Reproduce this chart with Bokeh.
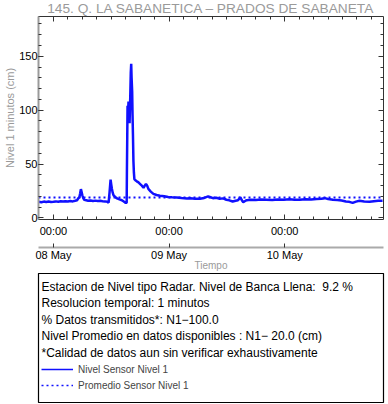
from datetime import datetime, timedelta

from bokeh.embed import file_html
from bokeh.layouts import column
from bokeh.models import (ColumnDataSource, CustomJSTickFormatter, DatetimeAxis,
                          DatetimeTickFormatter, FixedTicker, Label, Legend, LegendItem,
                          LinearAxis, Range1d, SingleIntervalTicker)
from bokeh.plotting import figure
from bokeh.resources import INLINE

# ---------------- data ----------------
TITLE = "145. Q. LA SABANETICA \u2013 PRADOS DE SABANETA"
Y_LABEL = "Nivel 1 minutos (cm)"
X_LABEL = "Tiempo"
DAY0 = datetime(2024, 5, 8)

# hours relative to 08 May 00:00
hours = [-3.1, -2.5, -2.0, -1.5, -1.0, -0.5, 0.0, 0.5, 1.0, 1.5, 2.0, 2.5, 3.0, 3.5,
         4.0, 4.5, 4.9, 5.2, 5.4, 5.55, 5.7, 5.85, 6.0, 6.2, 6.4, 6.8, 7.2, 7.7, 8.2,
         8.7, 9.2, 9.7, 10.2, 10.7, 11.2, 11.45, 11.65, 11.86, 12.0, 12.14, 12.3,
         12.48, 12.8, 13.2, 13.7, 14.2, 14.6, 15.0, 15.2, 15.25, 15.38, 15.5, 15.58,
         15.7, 15.8, 15.93, 16.05, 16.14, 16.22, 16.34, 16.42, 16.5, 16.6, 16.7, 16.8,
         17.0, 17.3, 17.65, 18.0, 18.35, 18.7, 18.95, 19.2, 19.45, 19.7, 20.2, 20.75,
         21.4, 22.1, 23.0, 23.8, 24.6, 25.6, 26.6, 27.7, 28.4, 29.4, 30.4, 31.3, 32.1,
         32.6, 33.1, 33.8, 34.5, 35.2, 35.9, 36.5, 37.2, 37.8, 38.3, 38.6, 38.8, 39.1,
         39.4, 39.7, 40.1, 41.0, 42.0, 43.0, 44.2, 45.4, 46.6, 47.8, 49.0, 50.0, 51.1,
         52.3, 53.5, 54.6, 55.6, 56.3, 57.0, 58.0, 58.9, 59.8, 60.7, 61.4, 62.1, 62.8,
         63.5, 64.5, 65.6, 66.5, 67.4, 68.3]
level_cm = [15.0, 14.6, 15.2, 14.8, 15.3, 14.9, 15.1, 15.4, 15.0, 15.5, 15.2, 15.6, 15.3,
            15.7, 15.4, 16.0, 16.5, 18.5, 19.5, 23.0, 26.8, 24.0, 21.0, 18.5, 16.8, 16.4,
            16.0, 16.3, 15.8, 16.1, 15.7, 15.9, 15.5, 15.4, 15.0, 14.3, 24.0, 35.5, 31.0,
            27.0, 23.5, 21.0, 19.5, 18.2, 17.3, 16.5, 15.3, 14.0, 14.2, 44.0, 104.0, 99.0,
            108.0, 97.0, 88.0, 110.0, 135.0, 143.0, 130.0, 117.0, 95.0, 78.0, 53.0, 42.0,
            36.0, 35.0, 34.0, 33.0, 31.5, 30.0, 28.0, 30.0, 31.7, 30.0, 27.0, 24.5, 22.4,
            21.3, 20.6, 20.1, 19.4, 19.2, 19.0, 18.5, 18.0, 18.4, 17.8, 17.9, 18.6, 20.0,
            19.2, 18.4, 18.7, 17.9, 18.2, 16.9, 16.4, 15.3, 16.0, 16.5, 18.0, 19.3, 16.5,
            14.7, 15.5, 16.5, 17.0, 16.6, 17.1, 17.0, 16.8, 17.2, 16.9, 17.3, 17.0, 17.0,
            17.4, 17.1, 17.6, 17.8, 18.4, 17.6, 17.0, 16.7, 16.2, 15.3, 15.0, 14.0, 15.2,
            16.0, 15.4, 15.0, 15.6, 15.9, 16.0]
mean_cm = 19.0
x_span_hours = [-3.1, 68.5]
y_span_cm = [-1.4, 186.9]
tick_days = [datetime(2024, 5, 8), datetime(2024, 5, 9), datetime(2024, 5, 10)]
minor_step_hours = 3

info_lines = [
    "Estacion de Nivel tipo Radar. Nivel de Banca Llena:\u00a0 9.2 %",
    "Resolucion temporal: 1 minutos",
    "% Datos transmitidos*: N1\u2212100.0",
    "Nivel Promedio en datos disponibles : N1\u2212 20.0 (cm)",
    "*Calidad de datos aun sin verificar exhaustivamente",
]
legend_labels = ["Nivel Sensor Nivel 1", "Promedio Sensor Nivel 1"]

# ---------------- build ----------------
FONT = "Liberation Sans"
GRAY = "#9a9a9a"
DARK = "#333333"
BLUE = "#1010ff"

times = [DAY0 + timedelta(hours=h) for h in hours]
x0 = DAY0 + timedelta(hours=x_span_hours[0])
x1 = DAY0 + timedelta(hours=x_span_hours[1])
src = ColumnDataSource(dict(t=times, v=level_cm))
mean_src = ColumnDataSource(dict(t=[x0, x1], v=[mean_cm, mean_cm]))


def ms(d):
    return (d - datetime(1970, 1, 1)).total_seconds() * 1000.0


major_ms = [ms(d) for d in tick_days]
minor_ms = []
m = tick_days[0] - timedelta(hours=minor_step_hours)
while m <= x1 + timedelta(hours=minor_step_hours):
    minor_ms.append(ms(m))
    m += timedelta(hours=minor_step_hours)

W = 388
FRAME_L, FRAME_T, FRAME_R, FRAME_B = 38, 16, 384, 219
H1 = 273          # main plot height (box starts right below)
H2 = 404 - H1     # info box figure

p = figure(width=W, height=H1, output_backend="svg", toolbar_location=None,
           x_axis_type="datetime", x_range=Range1d(x0, x1),
           y_range=Range1d(y_span_cm[0], y_span_cm[1]),
           min_border_left=FRAME_L, min_border_right=W - FRAME_R,
           min_border_top=FRAME_T, min_border_bottom=H1 - FRAME_B,
           outline_line_color=None, background_fill_color="white",
           border_fill_color="white")
p.xgrid.grid_line_color = None
p.ygrid.grid_line_color = None

p.title.text = TITLE
p.title.align = "center"
p.title.vertical_align = "top"
p.title.text_font = FONT
p.title.text_font_size = "13.7px"
p.title.text_font_style = "normal"
p.title.text_color = GRAY
p.title.standoff = -2
p.title.offset = 2

xa = p.below[0]
ya = p.left[0]

r_line = p.line("t", "v", source=src, line_color=BLUE, line_width=2.5)
r_mean = p.line("t", "v", source=mean_src, line_color=BLUE, line_width=2,
                line_dash="2 3")

y_ticker = SingleIntervalTicker(interval=50, num_minor_ticks=5)
x_ticker = FixedTicker(ticks=major_ms, minor_ticks=minor_ms)
blank = CustomJSTickFormatter(code="return ''")


def style_ticks(ax):
    ax.major_tick_in = 5
    ax.major_tick_out = 0
    ax.minor_tick_in = 3
    ax.minor_tick_out = 0
    ax.major_tick_line_color = DARK
    ax.minor_tick_line_color = DARK


# left axis
ya.ticker = y_ticker
style_ticks(ya)
ya.axis_line_color = GRAY
ya.axis_line_width = 2
ya.major_label_text_font = FONT
ya.major_label_text_font_size = "11px"
ya.major_label_text_color = "black"
ya.major_label_standoff = 1
ya.axis_label = Y_LABEL
ya.axis_label_text_font = FONT
ya.axis_label_text_font_size = "11px"
ya.axis_label_text_font_style = "normal"
ya.axis_label_text_color = GRAY
ya.axis_label_standoff = 0

# right mirror axis
ra = LinearAxis(ticker=y_ticker, formatter=blank, axis_line_color=DARK,
                major_label_standoff=0, major_label_text_font_size="0px")
style_ticks(ra)
p.add_layout(ra, "right")

# top mirror axis
ta = DatetimeAxis(ticker=x_ticker, formatter=blank, axis_line_color=DARK,
                  major_label_standoff=0, major_label_text_font_size="0px")
style_ticks(ta)
p.add_layout(ta, "above")

# bottom axis: hours
fmt_h = DatetimeTickFormatter(days="%H:%M", hours="%H:%M", hourmin="%H:%M",
                              months="%H:%M", years="%H:%M", context=None)
xa.ticker = x_ticker
xa.formatter = fmt_h
style_ticks(xa)
xa.axis_line_color = DARK
xa.major_label_text_font = FONT
xa.major_label_text_font_size = "11px"
xa.major_label_text_color = "black"
xa.major_label_standoff = 5
xa.axis_label = " "
xa.axis_label_text_font_size = "5px"
xa.axis_label_standoff = -1

# bottom axis: days
fmt_d = DatetimeTickFormatter(days="%d %b", hours="%d %b", hourmin="%d %b",
                              months="%d %b", years="%d %b", context=None)
da = DatetimeAxis(ticker=FixedTicker(ticks=major_ms), formatter=fmt_d,
                  axis_line_color="#aaaaaa", axis_line_width=2,
                  major_tick_in=4, major_tick_out=0, major_tick_line_color=DARK,
                  minor_tick_line_color=None,
                  major_label_text_font=FONT, major_label_text_font_size="11px",
                  major_label_text_color="black", major_label_standoff=1,
                  axis_label=X_LABEL, axis_label_text_font=FONT,
                  axis_label_text_font_size="10px", axis_label_text_font_style="normal",
                  axis_label_text_color=GRAY, axis_label_standoff=-4)
p.add_layout(da, "below")

# ---------------- info box ----------------
BOX_T, BOX_B, BOX_L, BOX_R = 0, 129, 38, 383   # within second figure
p2 = figure(width=W, height=H2, output_backend="svg", toolbar_location=None,
            x_range=Range1d(x0, x1), y_range=Range1d(1000, 1001),
            x_axis_location=None, y_axis_location=None,
            min_border_left=BOX_L, min_border_right=W - BOX_R,
            min_border_top=BOX_T, min_border_bottom=H2 - BOX_B,
            outline_line_color="black", outline_line_width=1.2,
            background_fill_color="white", border_fill_color="white")
p2.xgrid.grid_line_color = None
p2.ygrid.grid_line_color = None
# legend samples (same series, outside of this figure's visible range)
l1 = p2.line("t", "v", source=src, line_color=BLUE, line_width=1.5)
l2 = p2.line("t", "v", source=mean_src, line_color=BLUE, line_width=1.5,
             line_dash="2 3")

box_h = BOX_B - BOX_T
line_y0, line_dy = 13, 16.5     # centre of first text line below the box top
for i, txt in enumerate(info_lines):
    p2.add_layout(Label(x=3, y=box_h - (line_y0 + i * line_dy), x_units="screen",
                        y_units="screen", text=txt, text_align="left",
                        text_baseline="middle", text_font=FONT, text_font_size="12px",
                        text_color="black"))

legend = Legend(items=[LegendItem(label=legend_labels[0], renderers=[l1]),
                       LegendItem(label=legend_labels[1], renderers=[l2])],
                location=(3, 10), orientation="vertical", padding=0,
                margin=0, spacing=2, glyph_width=32, glyph_height=14, label_height=14,
                label_standoff=5, label_text_font=FONT, label_text_font_size="10px",
                border_line_alpha=0, background_fill_alpha=0)
p2.add_layout(legend, "center")

layout = column(p, p2, spacing=0)
html = file_html(layout, INLINE, title="Nivel")
html = html.replace("<head>", "<head><style>html,body{margin:0;padding:0;}</style>", 1)
open("out.html", "w").write(html)
